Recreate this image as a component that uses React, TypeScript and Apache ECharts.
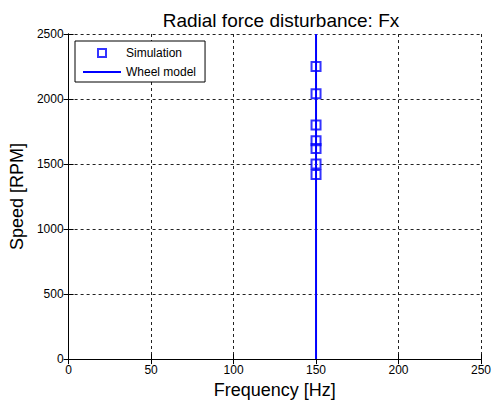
import React, { useEffect, useRef } from "react";
import * as echarts from "echarts";

const speeds = [2250, 2040, 1800, 1680, 1620, 1500, 1420];
const simFreq = [150, 150, 150, 150, 150, 150, 150];
const wheelFreq = [150, 150];
const wheelSpeed = [0, 2500];

const FONT = "'Liberation Sans', Arial, sans-serif";

export default function App() {
  const ref = useRef<HTMLDivElement>(null);
  useEffect(() => {
    document.body.style.margin = "0";
    const chart = echarts.init(ref.current!, null, { renderer: "svg" });
    const axisCommon = {
      axisLine: { show: true, lineStyle: { color: "#000", width: 1 } },
      axisTick: { show: true, inside: true, length: 5, lineStyle: { color: "#000" } },
    };
    const plain = (v: number) => String(v);
    chart.setOption({
      animation: false,
      backgroundColor: "#fff",
      textStyle: { fontFamily: FONT },
      title: {
        text: "Radial force disturbance: Fx",
        left: 276,
        textAlign: "center",
        top: 6,
        textStyle: { fontFamily: FONT, fontSize: 19, fontWeight: "normal", color: "#000" },
      },
      grid: { left: 68, top: 34, width: 417, height: 328, show: false },
      legend: {
        orient: "vertical",
        left: 75,
        top: 41,
        padding: [6, 9, 4, 8],
        itemWidth: 38,
        itemHeight: 10,
        itemGap: 7,
        symbolKeepAspect: true,
        borderColor: "#000",
        borderWidth: 1,
        borderRadius: 0,
        backgroundColor: "#fff",
        textStyle: { fontFamily: FONT, fontSize: 12, color: "#000" },
        data: [
          {
            name: "Simulation",
            icon: "path://M0,0H10V10H0Z M2,2V8H8V2Z",
            itemStyle: { color: "#0000ff", borderWidth: 0 },
          },
          {
            name: "Wheel model",
            icon: "path://M0,0H38V2H0Z",
            itemStyle: { color: "#0000ff", borderWidth: 0 },
          },
        ],
        z: 10,
      },
      xAxis: [
        {
          type: "value",
          min: 0,
          max: 250,
          interval: 50,
          name: "Frequency [Hz]",
          nameLocation: "middle",
          nameGap: 21,
          nameTextStyle: { fontFamily: FONT, fontSize: 18, color: "#000" },
          axisLabel: { fontFamily: FONT, fontSize: 12, color: "#000", margin: 5, formatter: plain },
          splitLine: { show: true, lineStyle: { color: "#222", type: [3, 3], width: 1 } },
          ...axisCommon,
        },
        {
          type: "value",
          position: "top",
          min: 0,
          max: 250,
          interval: 50,
          axisLabel: { show: false },
          splitLine: { show: false },
          ...axisCommon,
        },
      ],
      yAxis: [
        {
          type: "value",
          min: 0,
          max: 2500,
          interval: 500,
          name: "Speed [RPM]",
          nameLocation: "middle",
          nameGap: 35,
          nameTextStyle: { fontFamily: FONT, fontSize: 18, color: "#000" },
          axisLabel: { fontFamily: FONT, fontSize: 12, color: "#000", margin: 5, formatter: plain },
          splitLine: { show: true, lineStyle: { color: "#222", type: [3, 3], width: 1 } },
          ...axisCommon,
        },
        {
          type: "value",
          position: "right",
          min: 0,
          max: 2500,
          interval: 500,
          axisLabel: { show: false },
          splitLine: { show: false },
          ...axisCommon,
        },
      ],
      series: [
        {
          name: "Simulation",
          type: "scatter",
          symbol: "rect",
          symbolSize: 9,
          itemStyle: { color: "rgba(0,0,0,0)", borderColor: "#0000ff", borderWidth: 2 },
          data: speeds.map((s, i) => [simFreq[i], s]),
          z: 2,
        },
        {
          name: "Wheel model",
          type: "line",
          symbol: "none",
          showSymbol: false,
          lineStyle: { color: "#0000ff", width: 2 },
          itemStyle: { color: "#0000ff" },
          data: wheelSpeed.map((s, i) => [wheelFreq[i], s]),
          z: 3,
        },
      ],
    });
    return () => chart.dispose();
  }, []);
  return (
    <div
      ref={ref}
      style={{ position: "fixed", left: 0, top: 0, width: 494, height: 404 }}
    />
  );
}
